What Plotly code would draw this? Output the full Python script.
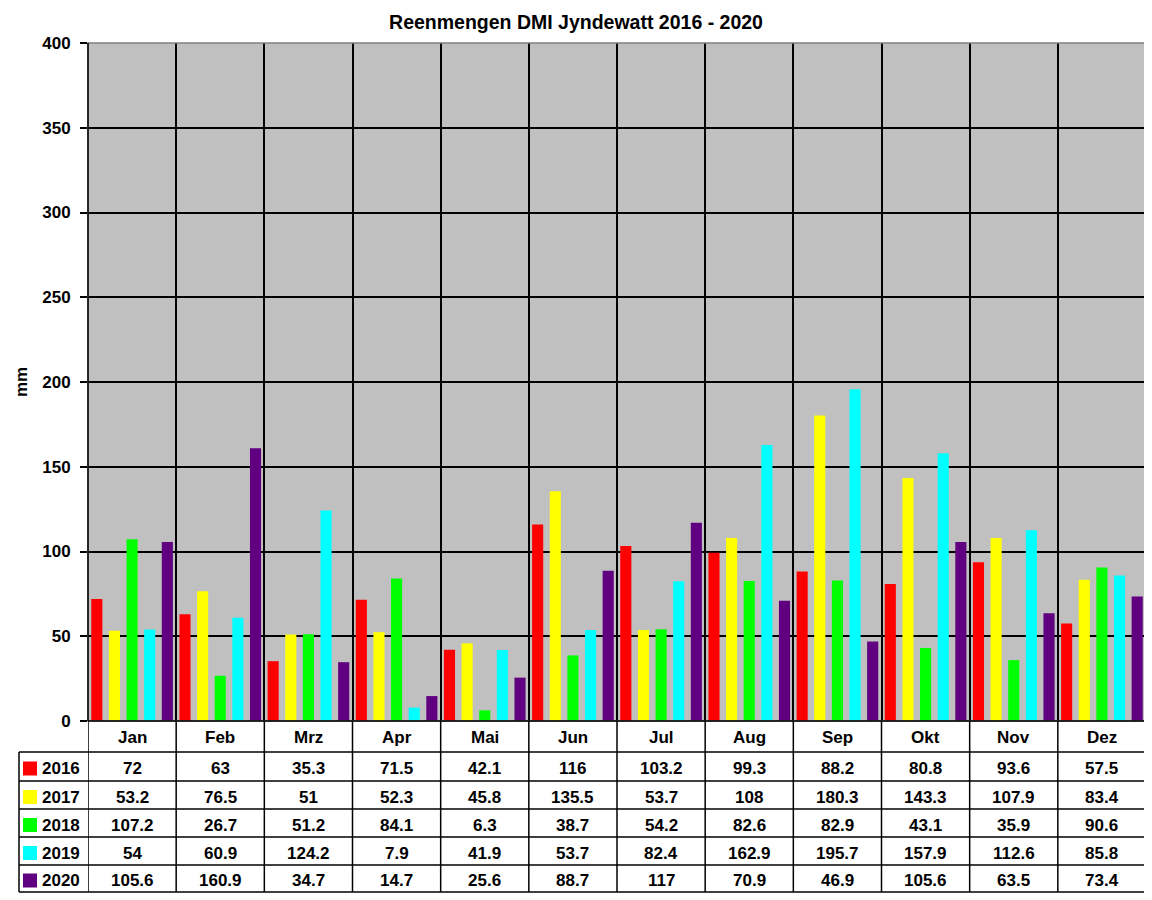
import plotly.graph_objects as go

months = ["Jan", "Feb", "Mrz", "Apr", "Mai", "Jun", "Jul", "Aug", "Sep", "Okt", "Nov", "Dez"]
years = ["2016", "2017", "2018", "2019", "2020"]
v2016 = [72, 63, 35.3, 71.5, 42.1, 116, 103.2, 99.3, 88.2, 80.8, 93.6, 57.5]
v2017 = [53.2, 76.5, 51, 52.3, 45.8, 135.5, 53.7, 108, 180.3, 143.3, 107.9, 83.4]
v2018 = [107.2, 26.7, 51.2, 84.1, 6.3, 38.7, 54.2, 82.6, 82.9, 43.1, 35.9, 90.6]
v2019 = [54, 60.9, 124.2, 7.9, 41.9, 53.7, 82.4, 162.9, 195.7, 157.9, 112.6, 85.8]
v2020 = [105.6, 160.9, 34.7, 14.7, 25.6, 88.7, 117, 70.9, 46.9, 105.6, 63.5, 73.4]
y_ticks = [0, 50, 100, 150, 200, 250, 300, 350, 400]

series = [v2016, v2017, v2018, v2019, v2020]
colors = ["#FF0000", "#FFFF00", "#00FF00", "#00FFFF", "#600080"]

# page body has an 8px margin; work in window pixels and offset
OFF = 8
WIN_W, WIN_H = 1152, 900
W, H = WIN_W - OFF, WIN_H - OFF
L, R, T, B = 88, 1146, 43, 721   # plot area in window pixels
FONT = "Liberation Sans, Arial, sans-serif"


def xp(px):
    return (px - L) / (R - L)


def yp(py):
    return (B - py) / (B - T)


fig = go.Figure()
for name, vals, col in zip(years, series, colors):
    fig.add_trace(go.Bar(x=months, y=vals, name=name, marker=dict(color=col, line=dict(width=0)),
                         showlegend=False))

shapes = []
annotations = []

shapes.append(dict(type="rect", xref="paper", yref="paper", x0=0, x1=1, y0=0, y1=1,
                   line=dict(color="#808080", width=1.5), layer="above"))
shapes.append(dict(type="line", xref="paper", yref="paper", x0=0, x1=0, y0=0, y1=1,
                   line=dict(color="black", width=1.5), layer="above"))
shapes.append(dict(type="line", xref="paper", yref="paper", x0=0, x1=1, y0=0, y1=0,
                   line=dict(color="black", width=1.5), layer="above"))

header_top, header_bot = 721, 752
row_edges = [752, 781, 809, 837, 865, 892]
table_left = 19
y_bot = yp(row_edges[-1])

for i in range(len(months) + 1):
    shapes.append(dict(type="line", xref="x", yref="paper", x0=i - 0.5, x1=i - 0.5,
                       y0=y_bot, y1=0, line=dict(color="black", width=1.5)))
shapes.append(dict(type="line", xref="paper", yref="paper", x0=xp(table_left), x1=xp(table_left),
                   y0=y_bot, y1=yp(header_bot), line=dict(color="black", width=1.5)))
for ry in row_edges:
    shapes.append(dict(type="line", xref="paper", yref="paper", x0=xp(table_left), x1=1,
                       y0=yp(ry), y1=yp(ry), line=dict(color="black", width=1.5)))

tfont = dict(family=FONT, size=17, color="black", weight="bold")

for m in months:
    annotations.append(dict(x=m, xref="x", y=yp((header_top + header_bot) / 2 + 1), yref="paper",
                            text=m, showarrow=False, font=tfont, xanchor="center", yanchor="middle"))

for r, (name, vals, col) in enumerate(zip(years, series, colors)):
    yc = (row_edges[r] + row_edges[r + 1]) / 2 + 2
    shapes.append(dict(type="rect", xref="paper", yref="paper", x0=xp(23), x1=xp(37),
                       y0=yp(yc + 7), y1=yp(yc - 7), fillcolor=col, line=dict(width=0)))
    annotations.append(dict(x=xp(40), xref="paper", y=yp(yc), yref="paper", text=name,
                            showarrow=False, font=tfont, xanchor="left", yanchor="middle"))
    for m, v in zip(months, vals):
        annotations.append(dict(x=m, xref="x", y=yp(yc), yref="paper", text=f"{v:g}",
                                showarrow=False, font=tfont, xanchor="center", yanchor="middle"))

annotations.append(dict(x=xp(21.5), xref="paper", y=yp(382.5), yref="paper", text="mm", textangle=-90,
                        showarrow=False, font=tfont, xanchor="center", yanchor="middle"))

fig.update_layout(
    width=W, height=H,
    margin=dict(l=L - OFF, r=WIN_W - R, t=T - OFF, b=WIN_H - B, autoexpand=False),
    paper_bgcolor="white", plot_bgcolor="#C0C0C0",
    barmode="group", bargap=0, bargroupgap=0.37,
    title=dict(text="Reenmengen DMI Jyndewatt 2016 - 2020", x=(576 - OFF) / W, xref="container",
               y=1 - (22 - OFF) / H, yref="container", xanchor="center", yanchor="middle",
               font=dict(family=FONT, size=19.5, color="black", weight="bold")),
    xaxis=dict(type="category", range=[-0.5, 11.5], showticklabels=False, tickson="boundaries",
               showgrid=True, gridcolor="black", gridwidth=1.5, ticks="", showline=False,
               zeroline=False, fixedrange=True),
    yaxis=dict(range=[0, 400], tickvals=y_ticks, showgrid=True, gridcolor="black", gridwidth=1.5,
               ticks="outside", ticklen=7, tickcolor="black", tickwidth=1.5, showline=False,
               zeroline=False, tickfont=tfont, ticklabelstandoff=6, fixedrange=True),
    shapes=shapes, annotations=annotations,
)

fig.write_html("out.html")
